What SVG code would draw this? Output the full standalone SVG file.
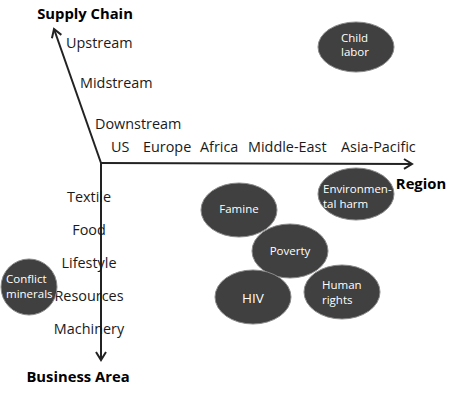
<svg xmlns="http://www.w3.org/2000/svg" width="451" height="410" viewBox="0 0 451 410">
<style>
.lbl{font-family:"Open Sans","Noto Sans",sans-serif;font-size:14.4px;fill:#1a1a1a}
.ttl{font-family:"Open Sans","Noto Sans",sans-serif;font-size:14.8px;font-weight:bold;fill:#000}
.bub{fill:#404040;stroke:#8a8a8a;stroke-width:1}
.bt{font-family:"Open Sans","Noto Sans",sans-serif;font-size:11.5px;fill:#fff}
.ax{stroke:#222;stroke-width:2;fill:none}
</style>
<defs>
<marker id="arr" viewBox="0 0 12 12" refX="10" refY="6" markerWidth="12" markerHeight="12" markerUnits="userSpaceOnUse" orient="auto">
<path d="M2,1 L10,6 L2,11" fill="none" stroke="#222" stroke-width="2"/>
</marker>
</defs>
<rect width="451" height="410" fill="#fff"/>
<g id="connectors">
<line class="ax" x1="101" y1="163" x2="54" y2="29" marker-end="url(#arr)"/>
<line class="ax" x1="101" y1="163" x2="412" y2="164" marker-end="url(#arr)"/>
<line class="ax" x1="101" y1="163" x2="101" y2="360" marker-end="url(#arr)"/>
</g>
<g id="axis-labels">
<text class="ttl" x="85" y="19" text-anchor="middle">Supply Chain</text>
<text class="ttl" x="421" y="189" text-anchor="middle">Region</text>
<text class="ttl" x="78" y="382" text-anchor="middle">Business Area</text>
<text class="lbl" x="66" y="48">Upstream</text>
<text class="lbl" x="80" y="88">Midstream</text>
<text class="lbl" x="95" y="129">Downstream</text>
<text class="lbl" x="111" y="152">US</text>
<text class="lbl" x="143" y="152">Europe</text>
<text class="lbl" x="200" y="152">Africa</text>
<text class="lbl" x="248" y="152">Middle-East</text>
<text class="lbl" x="341" y="152">Asia-Pacific</text>
<text class="lbl" x="89" y="202" text-anchor="middle">Textile</text>
<text class="lbl" x="89" y="235" text-anchor="middle">Food</text>
<text class="lbl" x="89" y="268" text-anchor="middle">Lifestyle</text>
<text class="lbl" x="89" y="301" text-anchor="middle">Resources</text>
<text class="lbl" x="89" y="334" text-anchor="middle">Machinery</text>
</g>
<g id="child-labor">
<ellipse class="bub" cx="356" cy="47" rx="38" ry="25"/>
<text class="bt" x="341" y="42">Child</text>
<text class="bt" x="341" y="56">labor</text>
</g>
<g id="environmental-harm">
<ellipse class="bub" cx="356" cy="194" rx="38" ry="26"/>
<text class="bt" x="323" y="193">Environmen-</text>
<text class="bt" x="323" y="208">tal harm</text>
</g>
<g id="famine">
<ellipse class="bub" cx="239" cy="210" rx="38" ry="27"/>
<text class="bt" x="239" y="213" text-anchor="middle">Famine</text>
</g>
<g id="poverty">
<ellipse class="bub" cx="290" cy="251" rx="38" ry="27"/>
<text class="bt" x="290" y="255" text-anchor="middle">Poverty</text>
</g>
<g id="hiv">
<ellipse class="bub" cx="253" cy="297" rx="38" ry="27"/>
<text class="bt" x="253" y="303" text-anchor="middle" style="font-size:13.5px">HIV</text>
</g>
<g id="human-rights">
<ellipse class="bub" cx="342" cy="292" rx="38" ry="27"/>
<text class="bt" x="322" y="289">Human</text>
<text class="bt" x="322" y="304">rights</text>
</g>
<g id="conflict-minerals">
<ellipse class="bub" cx="29" cy="287" rx="28" ry="28"/>
<text class="bt" x="6" y="283">Conflict</text>
<text class="bt" x="6" y="298">minerals</text>
</g>
</svg>
